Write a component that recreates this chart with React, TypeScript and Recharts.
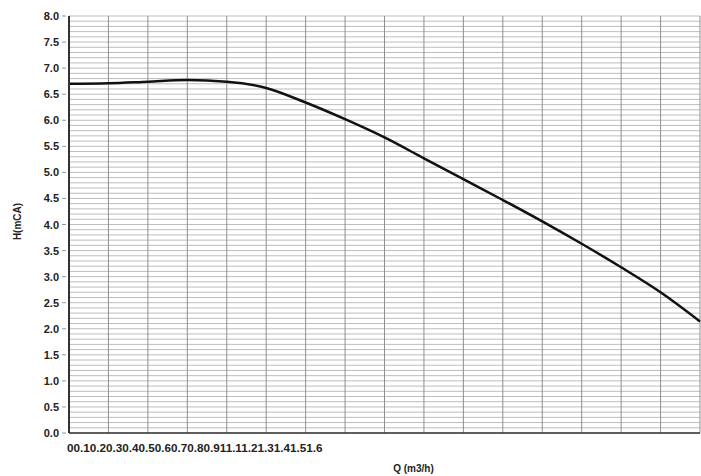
import { LineChart, Line, XAxis, YAxis, CartesianGrid } from "recharts"

// Q (m3/h) points and head readings taken from the pump curve
const flowTicks = [0, 0.1, 0.2, 0.3, 0.4, 0.5, 0.6, 0.7, 0.8, 0.9, 1, 1.1, 1.2, 1.3, 1.4, 1.5, 1.6]
const flowLabels = ["0", "0.1", "0.2", "0.3", "0.4", "0.5", "0.6", "0.7", "0.8", "0.9", "1", "1.1", "1.2", "1.3", "1.4", "1.5", "1.6"]
const headValues = [6.7, 6.71, 6.74, 6.77, 6.74, 6.62, 6.34, 6.02, 5.67, 5.27, 4.87, 4.47, 4.06, 3.63, 3.18, 2.7, 2.14]

// labelled head ticks, and the finer 0.1 steps used for the grid
const headTicks = [0, 0.5, 1, 1.5, 2, 2.5, 3, 3.5, 4, 4.5, 5, 5.5, 6, 6.5, 7, 7.5, 8]
const headGridTicks = Array.from({ length: 81 }, (_, i) => i / 10)

const FONT = "'Liberation Sans', Arial, sans-serif"

const data = flowTicks.map((q, i) => ({ q, h: headValues[i] }))

// labels are printed one after another, squeezed at the left like the original
function FlowTick(props: any) {
  const { x, y, index } = props
  if (index !== 0) return null
  return (
    <text x={x - 2} y={y + 11} fontSize={11.7} fontWeight="bold" fill="#222" fontFamily={FONT}>
      {flowLabels.map((l) => (
        <tspan key={l}>{l}</tspan>
      ))}
    </text>
  )
}

function HeadTick(props: any) {
  const { x, y, payload } = props
  const v = payload.value
  const labelled = headTicks.some((t) => Math.abs(t - v) < 1e-6)
  if (!labelled) return null
  return (
    <g>
      <line x1={x + 1} x2={x + 5} y1={y} y2={y} stroke="#999" />
      <text
        x={x - 2}
        y={y}
        dy={4}
        textAnchor="end"
        fontSize={11}
        fontWeight="bold"
        fill="#222"
        fontFamily={FONT}
      >
        {v.toFixed(1)}
      </text>
    </g>
  )
}

function HeadLabel(props: any) {
  const { viewBox } = props
  const cx = viewBox.x + 8
  const cy = viewBox.y + viewBox.height / 2 - 3
  return (
    <text
      x={cx}
      y={cy}
      transform={`rotate(-90, ${cx}, ${cy})`}
      textAnchor="middle"
      dominantBaseline="central"
      fontSize={10}
      fontWeight="bold"
      fill="#222"
      fontFamily={FONT}
    >
      H(mCA)
    </text>
  )
}

export default function App() {
  return (
    <div style={{ position: "absolute", left: 0, top: 0, background: "#fff" }}>
      <LineChart
        width={701}
        height={476}
        data={data}
        margin={{ top: 16, right: 1, left: 9, bottom: 13 }}
      >
        <CartesianGrid stroke="#bdbdbd" strokeWidth={1} vertical={false} />
        <CartesianGrid stroke="#8f8f8f" strokeWidth={1} horizontal={false} />
        <XAxis
          dataKey="q"
          type="number"
          domain={[0, 1.6]}
          ticks={flowTicks}
          tick={<FlowTick />}
          tickLine={false}
          axisLine={{ stroke: "#333", strokeWidth: 1.5 }}
          height={30}
          interval={0}
          label={{
            value: "Q (m3/h)",
            position: "bottom",
            offset: 2,
            dx: 29,
            fontSize: 10,
            fontWeight: "bold",
            fill: "#222",
            fontFamily: FONT,
          }}
        />
        <YAxis
          type="number"
          domain={[0, 8]}
          ticks={headGridTicks}
          interval={0}
          tick={<HeadTick />}
          tickLine={false}
          axisLine={{ stroke: "#333", strokeWidth: 2 }}
          width={60}
          label={<HeadLabel />}
        />
        <Line
          type="monotone"
          dataKey="h"
          stroke="#111"
          strokeWidth={2.5}
          dot={false}
          isAnimationActive={false}
        />
      </LineChart>
    </div>
  )
}
